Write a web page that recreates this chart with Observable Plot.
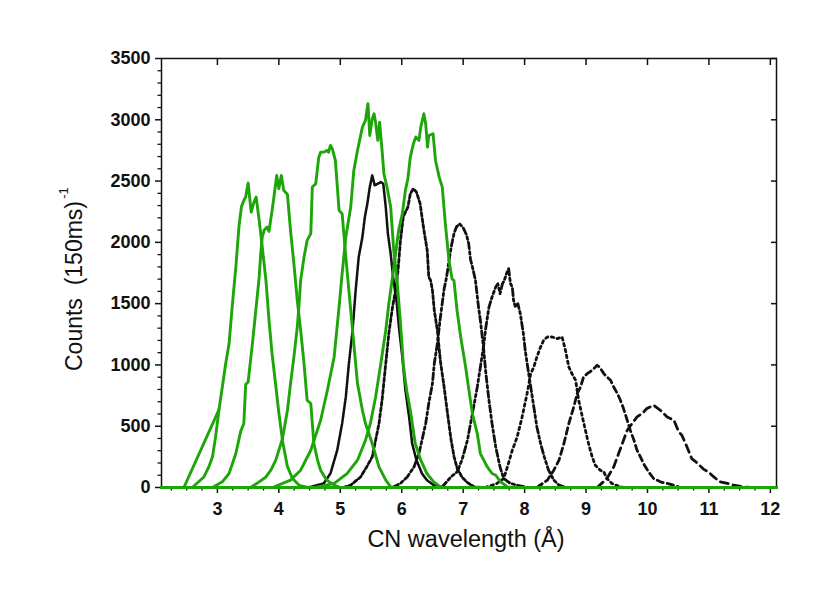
<!DOCTYPE html>
<html>
<head>
<meta charset="utf-8">
<script src="https://cdn.jsdelivr.net/npm/d3@7"></script>
<script src="https://cdn.jsdelivr.net/npm/@observablehq/plot@0.6"></script>
<style>
  html, body { margin: 0; padding: 0; background: #fff; }
  #chart { width: 830px; height: 590px; }
  svg { font-family: "Liberation Sans", Arial, sans-serif; }
</style>
</head>
<body>
<div id="chart"></div>
<script>
// ---- axes ----
const xDomain = [2.09, 12.1];
const yDomain = [0, 3500];
const xTicks = [3, 4, 5, 6, 7, 8, 9, 10, 11, 12];
const xMinor = d3.range(2.25, 12.1, 0.25).filter(v => Math.abs(v - Math.round(v)) > 1e-6);
const yTicks = [0, 500, 1000, 1500, 2000, 2500, 3000, 3500];
const yMinor = d3.range(100, 3500, 100).filter(v => v % 500 !== 0);
const xLabel = "CN wavelength (Å)";
const yLabel = "Counts  (150ms)";
const ySup = "-1";

// ---- green (solid) series: [wavelength, counts] ----
const greenA = [[2.59,0],[2.78,86],[2.86,168],[2.92,250],[2.97,413],[3.026,636],[3.08,820],[3.135,1011],[3.19,1174],[3.24,1472],[3.30,1798],[3.35,2125],[3.39,2288],[3.43,2342],[3.46,2370],[3.50,2484],[3.55,2247],[3.595,2329],[3.63,2370],[3.68,2179],[3.73,1962],[3.79,1690],[3.84,1364],[3.89,1090],[3.95,830],[4.0,610],[4.06,380],[4.14,170],[4.22,75],[4.33,18],[4.47,0]];
const greenA2 = [[2.455,0],[3.026,636]];
const greenB = [[2.92,0],[3.08,46],[3.19,114],[3.30,277],[3.38,460],[3.43,522],[3.46,840],[3.50,861],[3.57,1174],[3.62,1420],[3.68,1717],[3.705,1908],[3.73,2043],[3.76,2098],[3.81,2125],[3.84,2090],[3.89,2261],[3.92,2370],[3.965,2546],[4.0,2438],[4.04,2546],[4.08,2424],[4.14,2390],[4.19,2098],[4.245,1826],[4.30,1527],[4.355,1282],[4.41,1011],[4.46,712],[4.52,685],[4.545,522],[4.57,359],[4.63,223],[4.68,141],[4.78,60],[4.90,19],[5.0,0]];
const greenC = [[3.54,0],[3.68,46],[3.79,86],[3.87,141],[3.95,223],[4.06,400],[4.14,630],[4.19,848],[4.245,1065],[4.30,1309],[4.33,1500],[4.355,1690],[4.41,1880],[4.46,2016],[4.52,2071],[4.545,2451],[4.60,2478],[4.65,2695],[4.68,2736],[4.73,2736],[4.78,2750],[4.81,2736],[4.84,2791],[4.87,2764],[4.92,2668],[4.98,2261],[5.03,2234],[5.09,1880],[5.20,1282],[5.28,848],[5.36,630],[5.41,522],[5.52,359],[5.63,168],[5.74,60],[5.82,5],[5.9,0]];
const greenD = [[3.9,0],[4.19,60],[4.355,141],[4.52,304],[4.68,549],[4.79,793],[4.90,1065],[4.98,1472],[5.03,1745],[5.09,2043],[5.17,2288],[5.22,2587],[5.28,2750],[5.36,2940],[5.41,2995],[5.45,3131],[5.48,2872],[5.52,3008],[5.55,3049],[5.57,2995],[5.61,2832],[5.64,2981],[5.68,2750],[5.71,2560],[5.76,2451],[5.82,2288],[5.87,1935],[5.92,1717],[5.98,1337],[6.03,983],[6.08,793],[6.14,630],[6.22,359],[6.31,223],[6.41,114],[6.52,46],[6.63,5],[6.7,0]];
const greenE = [[4.6,0],[4.90,33],[5.11,114],[5.28,223],[5.41,386],[5.49,522],[5.575,739],[5.66,1011],[5.74,1282],[5.79,1500],[5.85,1717],[5.90,1908],[5.95,2098],[6.01,2234],[6.06,2424],[6.10,2519],[6.14,2695],[6.19,2805],[6.23,2859],[6.28,2832],[6.31,2940],[6.36,3049],[6.39,2968],[6.42,2777],[6.44,2872],[6.51,2886],[6.55,2668],[6.61,2532],[6.66,2451],[6.71,2150],[6.77,1850],[6.82,1700],[6.85,1690],[6.90,1446],[6.96,1228],[7.04,983],[7.07,875],[7.15,603],[7.23,440],[7.28,277],[7.39,170],[7.47,114],[7.53,100],[7.61,46],[7.72,5],[7.8,0]];

// ---- black (broken) series ----
const black1 = [[4.45,0],[4.52,5],[4.73,33],[4.84,114],[4.95,304],[5.03,522],[5.09,739],[5.14,1011],[5.20,1282],[5.25,1608],[5.30,1880],[5.36,2043],[5.40,2206],[5.44,2315],[5.48,2451],[5.52,2546],[5.56,2465],[5.61,2478],[5.66,2492],[5.70,2478],[5.74,2288],[5.775,2071],[5.82,1908],[5.86,1717],[5.92,1500],[5.96,1282],[6.01,1065],[6.06,793],[6.12,576],[6.17,359],[6.24,223],[6.33,114],[6.41,60],[6.52,19],[6.65,0]];
const black2 = [[5.05,0],[5.17,19],[5.33,86],[5.43,168],[5.52,250],[5.575,386],[5.63,522],[5.68,712],[5.74,1011],[5.79,1256],[5.85,1472],[5.90,1608],[5.94,1772],[5.98,2016],[6.025,2206],[6.06,2247],[6.10,2288],[6.14,2397],[6.19,2438],[6.24,2410],[6.30,2315],[6.33,2206],[6.37,2071],[6.415,1935],[6.44,1717],[6.47,1690],[6.50,1608],[6.53,1446],[6.58,1282],[6.63,1030],[6.69,820],[6.74,625],[6.80,400],[6.85,255],[6.90,160],[6.98,85],[7.07,40],[7.18,5],[7.3,0]];
const black3 = [[5.85,0],[5.98,33],[6.09,86],[6.20,168],[6.28,277],[6.33,386],[6.39,522],[6.44,685],[6.50,848],[6.53,1011],[6.58,1174],[6.63,1391],[6.69,1620],[6.73,1717],[6.77,1853],[6.81,1975],[6.85,2070],[6.89,2125],[6.94,2152],[7.00,2120],[7.055,2060],[7.09,1989],[7.12,1860],[7.16,1780],[7.20,1690],[7.25,1472],[7.28,1364],[7.33,1146],[7.37,929],[7.42,712],[7.47,522],[7.53,331],[7.60,168],[7.66,73],[7.77,33],[7.88,19],[8.05,0]];
const black4 = [[6.65,0],[6.80,86],[6.90,127],[6.98,223],[7.07,386],[7.15,603],[7.23,820],[7.28,983],[7.33,1146],[7.37,1309],[7.42,1472],[7.47,1554],[7.53,1636],[7.565,1663],[7.60,1581],[7.64,1663],[7.67,1690],[7.705,1745],[7.74,1786],[7.77,1663],[7.80,1636],[7.82,1527],[7.85,1472],[7.89,1500],[7.93,1418],[7.98,1255],[8.01,1119],[8.05,983],[8.10,820],[8.15,657],[8.20,494],[8.26,359],[8.32,250],[8.39,141],[8.475,60],[8.56,19],[8.67,0]];
const black5 = [[7.36,0],[7.55,33],[7.66,73],[7.72,168],[7.80,304],[7.88,413],[7.96,576],[8.04,766],[8.10,929],[8.15,983],[8.20,1065],[8.26,1146],[8.31,1201],[8.37,1228],[8.45,1228],[8.53,1215],[8.61,1228],[8.665,1119],[8.72,983],[8.77,929],[8.83,875],[8.88,712],[8.94,576],[8.99,467],[9.04,359],[9.10,250],[9.15,182],[9.23,141],[9.29,127],[9.34,73],[9.42,33],[9.56,5],[9.65,0]];
const black6 = [[8.20,0],[8.37,60],[8.475,141],[8.56,223],[8.64,359],[8.72,522],[8.80,657],[8.855,766],[8.91,820],[8.96,902],[9.02,929],[9.10,956],[9.18,997],[9.22,983],[9.29,929],[9.34,902],[9.40,875],[9.45,820],[9.51,766],[9.56,712],[9.61,644],[9.67,549],[9.72,467],[9.78,386],[9.83,304],[9.885,250],[9.95,182],[10.02,127],[10.10,73],[10.21,46],[10.32,33],[10.43,19],[10.53,0]];
const black7 = [[9.18,0],[9.34,73],[9.45,168],[9.53,277],[9.61,386],[9.67,467],[9.75,522],[9.83,576],[9.91,603],[9.99,644],[10.10,671],[10.21,630],[10.32,576],[10.43,549],[10.51,453],[10.56,426],[10.64,335],[10.72,236],[10.81,200],[10.91,150],[10.99,127],[11.08,86],[11.18,46],[11.30,33],[11.40,19],[11.56,5],[11.7,0]];

const green = [greenA, greenB, greenC, greenD, greenE];
const blacks = [
  {data: black1, dash: "1.3,1.2", w: 2.6},
  {data: black2, dash: "3.5,2.5", w: 2.8},
  {data: black3, dash: "6.5,3,2.5,3", w: 2.8},
  {data: black4, dash: "7,3,2.5,3,2.5,3", w: 2.8},
  {data: black5, dash: "2.5,3.5", w: 2.8},
  {data: black6, dash: "6.5,4", w: 2.8},
  {data: black7, dash: "8,5", w: 2.8}
];

const GREEN = "#1ea50a";
const toRows = arr => arr.map(([x, y]) => ({x, y}));
const withBase = arr => [[xDomain[0], 0], ...arr, [xDomain[1], 0]];

const marks = [
  Plot.frame({stroke: "#111", strokeWidth: 1.5}),
  Plot.axisY({ticks: yTicks, anchor: "left", tickSize: 6, tickPadding: 5, fontSize: 18, fontWeight: "bold", label: null, strokeWidth: 1.5, tickFormat: d => String(d)}),
  Plot.axisY({ticks: yMinor, anchor: "left", tickSize: 3.5, text: null, label: null, strokeWidth: 1.3}),
  Plot.axisY({ticks: yTicks, anchor: "right", tickSize: -6, text: null, label: null, strokeWidth: 1.5}),
  Plot.axisX({ticks: xTicks, anchor: "bottom", tickSize: 6, tickPadding: 9, fontSize: 18, fontWeight: "bold", label: null, strokeWidth: 1.5, tickFormat: d => String(d)}),
  Plot.axisX({ticks: xMinor, anchor: "bottom", tickSize: 3.5, text: null, label: null, strokeWidth: 1.3}),
  Plot.axisX({ticks: xTicks, anchor: "top", tickSize: -6, text: null, label: null, strokeWidth: 1.5}),
  Plot.text([xLabel], {frameAnchor: "bottom", textAnchor: "middle", lineAnchor: "top", dx: -3, dy: 43, fontSize: 23.5, fill: "#111"}),
  Plot.text([yLabel], {frameAnchor: "left", textAnchor: "middle", rotate: -90, dx: -87, dy: 13, fontSize: 23, fill: "#111"}),
  Plot.text([ySup], {frameAnchor: "left", textAnchor: "middle", rotate: -90, dx: -98, dy: -80, fontSize: 13, fill: "#111"})
];
for (const b of blacks) {
  marks.push(Plot.line(toRows(b.data), {x: "x", y: "y", stroke: "#111", strokeWidth: b.w, strokeDasharray: b.dash, strokeLinejoin: "round"}));
}
marks.push(Plot.line(toRows(greenA2), {x: "x", y: "y", stroke: GREEN, strokeWidth: 2.9, strokeLinejoin: "round"}));
for (const g of green) {
  marks.push(Plot.line(toRows(withBase(g)), {x: "x", y: "y", stroke: GREEN, strokeWidth: 2.9, strokeLinejoin: "round"}));
}

const chart = Plot.plot({
  width: 830,
  height: 590,
  marginLeft: 161,
  marginRight: 54,
  marginTop: 58,
  marginBottom: 103,
  style: {fontFamily: "'Liberation Sans', Arial, sans-serif", color: "#111", background: "#fff"},
  x: {domain: xDomain, axis: null},
  y: {domain: yDomain, axis: null},
  marks
});
document.getElementById("chart").appendChild(chart);
</script>
</body>
</html>
